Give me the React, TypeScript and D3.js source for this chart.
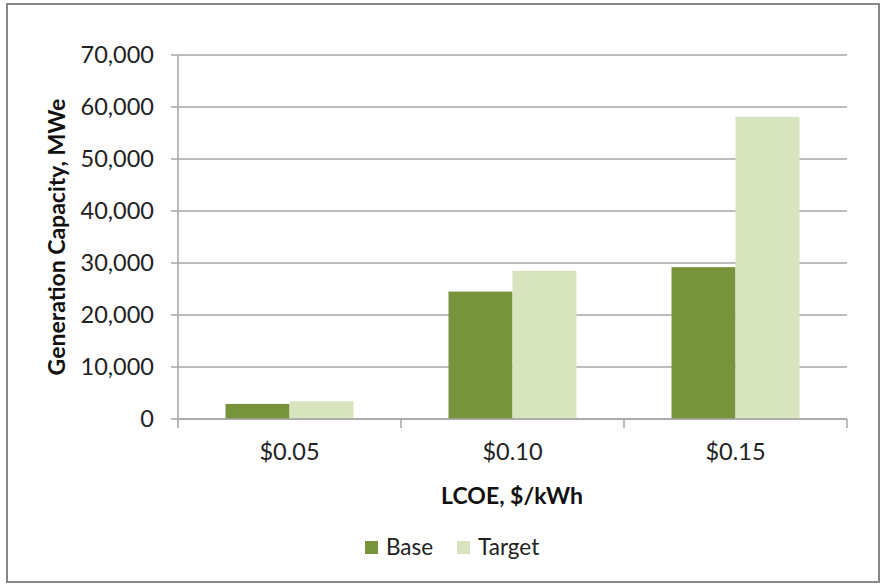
import React from "react";
import * as d3 from "d3";

const categories = ["$0.05", "$0.10", "$0.15"];
const baseValues = [2900, 24500, 29200];
const targetValues = [3400, 28500, 58100];
const seriesNames = ["Base", "Target"];
const yTicks = [0, 10000, 20000, 30000, 40000, 50000, 60000, 70000];

const W = 883;
const H = 585;
const colors = ["#77933C", "#D7E4BD"];
const FONT = "Lato, 'Open Sans', sans-serif";

export default function App() {
  const left = 178, right = 847, top = 55, bottom = 419;
  const x = d3.scaleBand<string>().domain(categories).range([left, right]).paddingInner(0).paddingOuter(0);
  const y = d3.scaleLinear().domain([0, 70000]).range([bottom, top]);
  const fmt = d3.format(",");
  const groupW = x.bandwidth();
  const barW = groupW * 0.287;
  const series = [baseValues, targetValues];

  return (
    <svg width={W} height={H} style={{ position: "absolute", left: 0, top: 0, background: "#fff" }} fontFamily={FONT}>
      <rect x={7} y={4} width={872} height={578} fill="#fff" stroke="#868686" strokeWidth={2} />
      {yTicks.map((t) => (
        <g key={t}>
          <line x1={left - 7} x2={right} y1={y(t)} y2={y(t)} stroke="#A6A6A6" strokeWidth={1.5} />
          <text x={154} y={y(t)} dy="0.36em" textAnchor="end" fontSize={23.5} fill="#222">{fmt(t)}</text>
        </g>
      ))}
      <line x1={left} x2={left} y1={top} y2={bottom} stroke="#A6A6A6" strokeWidth={1.5} />
      {categories.map((c, i) =>
        series.map((s, j) => {
          const x0 = (x(c) as number) + (groupW - 2 * barW) / 2 + j * barW;
          return <rect key={c + j} x={x0} y={y(s[i])} width={barW} height={bottom - y(s[i])} fill={colors[j]} />;
        })
      )}
      <line x1={left} x2={right} y1={bottom} y2={bottom} stroke="#A6A6A6" strokeWidth={1.5} />
      {[...categories.map((c) => x(c) as number), right].map((v, i) => (
        <line key={i} x1={v} x2={v} y1={bottom} y2={bottom + 9} stroke="#A6A6A6" strokeWidth={1.5} />
      ))}
      {categories.map((c) => (
        <text key={c} x={(x(c) as number) + groupW / 2} y={460} textAnchor="middle" fontSize={23.5} fill="#222">{c}</text>
      ))}
      <text x={512} y={504} textAnchor="middle" fontSize={23} fontWeight="bold" fill="#111">LCOE, $/kWh</text>
      <text transform={`translate(65, 237) rotate(-90)`} textAnchor="middle" fontSize={23} fontWeight="bold" fill="#111">Generation  Capacity, MWe</text>
      {seriesNames.map((n, j) => {
        const lx = [365, 457][j];
        return (
          <g key={n}>
            <rect x={lx} y={541} width={13} height={13} fill={colors[j]} />
            <text x={lx + 21} y={555} fontSize={22.5} fill="#222">{n}</text>
          </g>
        );
      })}
    </svg>
  );
}
